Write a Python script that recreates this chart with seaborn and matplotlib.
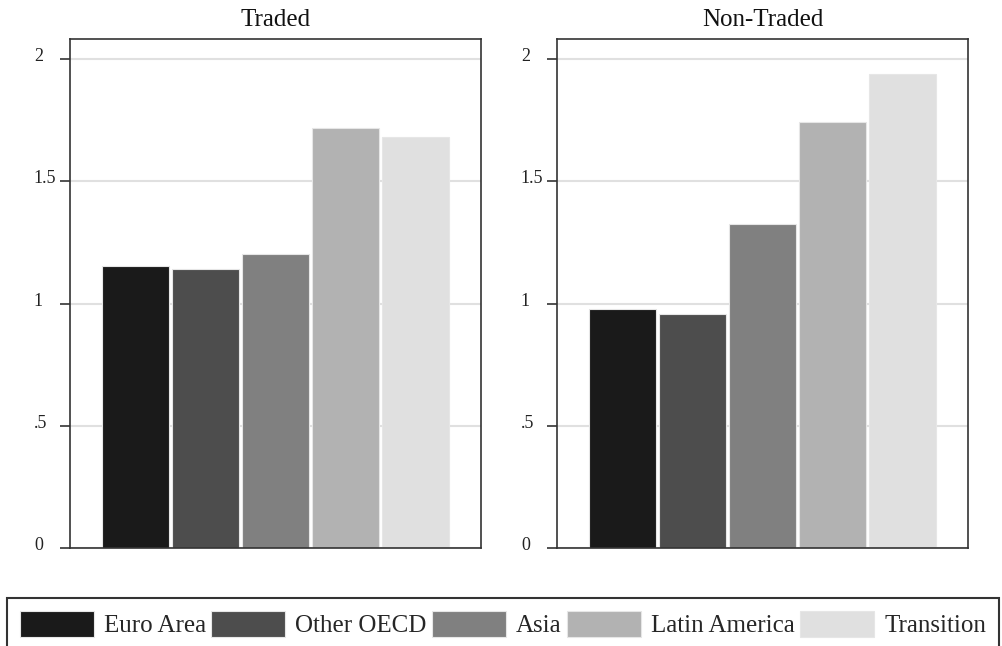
import matplotlib
matplotlib.use("Agg")
import matplotlib.pyplot as plt
import matplotlib.transforms as mtransforms
import seaborn as sns

# data
regions = ["Euro Area", "Other OECD", "Asia", "Latin America", "Transition"]
traded = [1.152, 1.143, 1.202, 1.717, 1.680]
non_traded = [0.979, 0.959, 1.325, 1.742, 1.939]
colors = ["#1a1a1a", "#4d4d4d", "#808080", "#b2b2b2", "#e0e0e0"]
panels = ["Traded", "Non-Traded"]
yticks = [0, 0.5, 1, 1.5, 2]
ytick_labels = ["0", ".5", "1", "1.5", "2"]

sns.set_theme(style="white")
plt.rcParams["font.family"] = ["Liberation Serif", "DejaVu Serif"]

fig = plt.figure(figsize=(10.03, 6.46), dpi=100)
W, H = 1003, 646
ax_left = [70, 557]
ax_w = 411
ax_top, ax_bot = 39, 548

# tick labels sit on the tick, Stata style (baseline a hair below the tick)
nudge = mtransforms.ScaledTranslation(0, -2 / 100, fig.dpi_scale_trans)

for i, (name, vals) in enumerate(zip(panels, [traded, non_traded])):
    ax = fig.add_axes([ax_left[i] / W, (H - ax_bot) / H, ax_w / W, (ax_bot - ax_top) / H])
    sns.barplot(x=regions, y=vals, hue=regions, palette=colors, width=0.957,
                edgecolor="#e6e6e6", linewidth=0.8, legend=False, ax=ax)
    ax.set_xlim(-0.94, 4.93)
    ax.set_ylim(0, 2.082)
    ax.set_yticks(yticks)
    ax.set_yticklabels(ytick_labels, fontsize=13, color="#222222")
    ax.tick_params(axis="y", direction="out", length=7, width=1.2, color="#333333",
                   left=True, pad=19)
    for lab in ax.get_yticklabels():
        lab.set_verticalalignment("baseline")
        lab.set_horizontalalignment("left")
        lab.set_transform(lab.get_transform() + nudge)
    ax.set_xticks([])
    ax.set_xlabel("")
    ax.set_ylabel("")
    ax.yaxis.grid(True, color="#e0e0e0", linewidth=1.5)
    ax.set_axisbelow(True)
    for sp in ax.spines.values():
        sp.set_visible(True)
        sp.set_color("#333333")
        sp.set_linewidth(1.2)
    ax.set_title(name, fontsize=18, pad=9, color="#111111")

handles = [plt.Rectangle((0, 0), 1, 1, facecolor=c, edgecolor="#e6e6e6", linewidth=0.8)
           for c in colors]
# legend box runs off the bottom edge, as in the reference
leg = fig.legend(handles, regions, loc="upper left", ncol=5, mode="expand",
                 bbox_to_anchor=(7 / W, 1 - 598 / H, 992 / W, 0),
                 fontsize=18, frameon=True, fancybox=False, framealpha=1,
                 handlelength=2.95, handleheight=1.2, handletextpad=0.4,
                 columnspacing=0.3, borderpad=0.52, borderaxespad=0)
leg.get_frame().set_edgecolor("#333333")
leg.get_frame().set_linewidth(1.5)

fig.savefig("out.png", dpi=100)
